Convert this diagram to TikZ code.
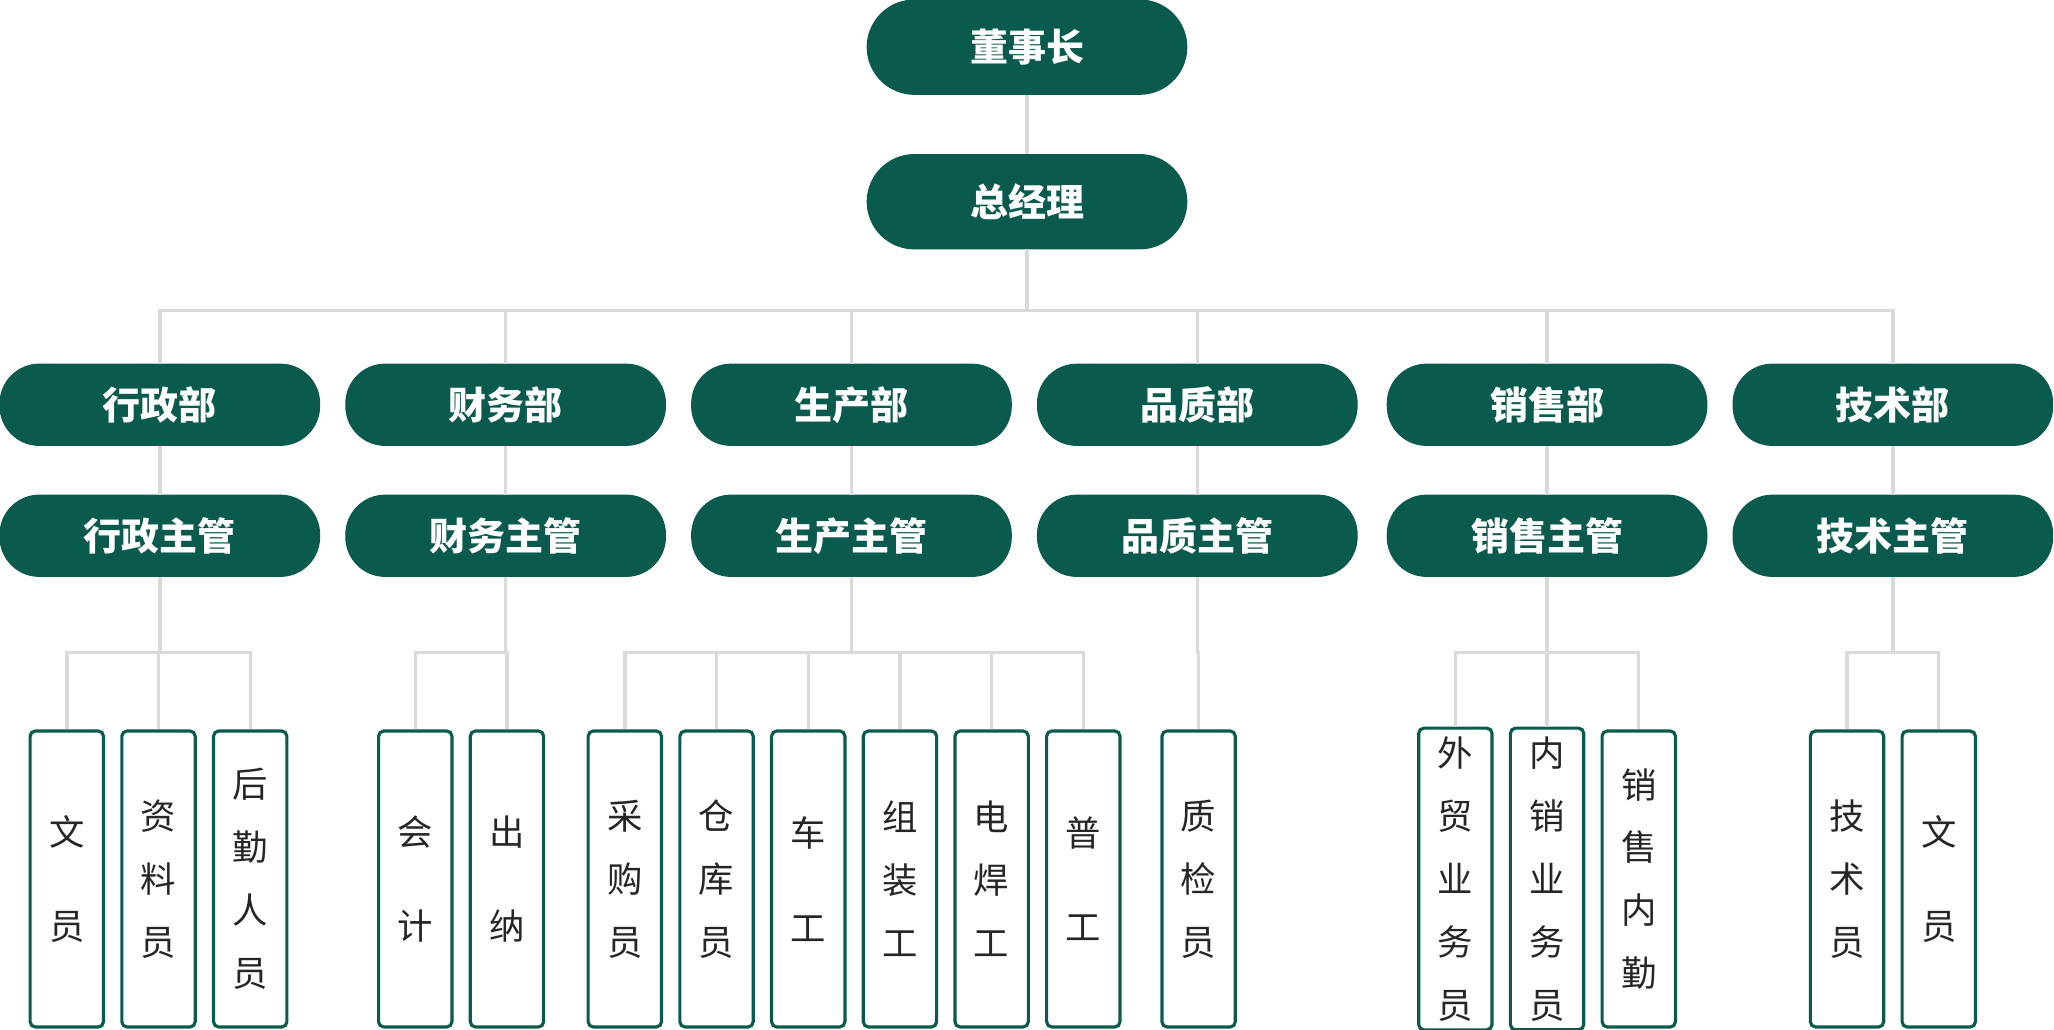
\documentclass[tikz,border=0pt]{standalone}
\usepackage{fontspec}
\setmainfont{Noto Sans CJK SC}
\usetikzlibrary{positioning}
\definecolor{pine}{HTML}{0B5A4E}
\definecolor{wire}{HTML}{DADADA}
\tikzset{x=0.5pt, y=-0.5pt}
\tikzset{pill/.style={draw=pine, fill=pine, rounded corners=15pt, minimum width=122pt,
    text=white, font=\bfseries\fontsize{14.5}{16}\selectfont}}
\tikzset{top/.style={pill, minimum height=36pt, rounded corners=18pt}}
\tikzset{dept/.style={pill, minimum height=31pt}}
\tikzset{stf/.style={draw=pine, line width=1.2pt, fill=white, rounded corners=2pt,
    minimum width=28pt, minimum height=113pt, align=center, text=black!85,
    font=\fontsize{13.5}{24}\selectfont}}
\tikzset{link/.style={draw=wire, line width=1.3pt}}
\begin{document}
\begin{tikzpicture}
  \useasboundingbox (0,0) rectangle (1568,786);
  % top
  \node[top] (chair) at (784,36) {董事长};
  \node[top] (gm) at (784,154) {总经理};
  \coordinate (bus) at (784,237);
  \coordinate (low) at (0,498);
  % departments and supervisors
  \foreach \id/\x/\dep/\sup in {xz/122/行政部/行政主管, cw/386/财务部/财务主管,
      sc/650/生产部/生产主管, pz/914/品质部/品质主管, xs/1181/销售部/销售主管,
      js/1445/技术部/技术主管}{
    \node[dept] (\id) at (\x,309) {\dep};
    \node[dept] (\id s) at (\x,409) {\sup};
  }
  % staff
  \foreach \id/\x/\txt/\boss in {a1/51/{文\\[12pt]员}/xzs, a2/121/{资\\料\\员}/xzs,
      a3/191/{后\\勤\\人\\员}/xzs, b1/317/{会\\[12pt]计}/cws, b2/387/{出\\[12pt]纳}/cws,
      c1/477/{采\\购\\员}/scs, c2/547/{仓\\库\\员}/scs, c3/617/{车\\[12pt]工}/scs,
      c4/687/{组\\装\\工}/scs, c5/757/{电\\焊\\工}/scs, c6/827/{普\\[12pt]工}/scs,
      d1/915/{质\\检\\员}/pzs, e1/1111/{外\\贸\\业\\务\\员}/xss,
      e2/1181/{内\\销\\业\\务\\员}/xss, e3/1251/{销\\售\\内\\勤}/xss,
      f1/1410/{技\\术\\员}/jss, f2/1480/{文\\[12pt]员}/jss}{
    \node[stf] (\id) at (\x,671) {\txt};
    \begin{scope}[on background layer/.try]
    \draw[link] (\boss.south) -- (\boss.south |- low) -| (\id.north);
    \end{scope}
  }
  % connectors
  \draw[link] (chair) -- (gm);
  \draw[link] (gm) -- (bus);
  \foreach \id in {xz,cw,sc,pz,xs,js}{
    \draw[link] (bus) -| (\id.north);
    \draw[link] (\id) -- (\id s);
  }
\end{tikzpicture}
\end{document}
